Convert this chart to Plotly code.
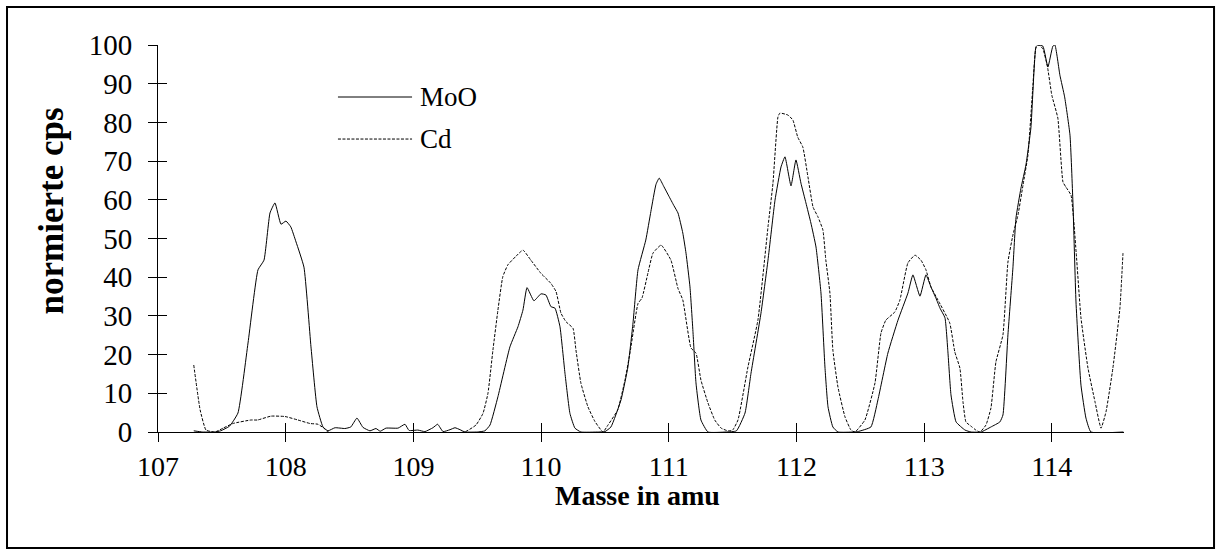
import plotly.graph_objects as go

# MoO trace: mass (amu) and normalised counts
mass_moo = [107.28, 107.35, 107.45, 107.49, 107.56, 107.626, 107.705, 107.783, 107.83, 107.877,
            107.916, 107.963, 108.002, 108.04, 108.081, 108.143, 108.198, 108.245, 108.292, 108.331,
            108.386, 108.464, 108.51, 108.558, 108.605, 108.66, 108.707, 108.74, 108.785, 108.88,
            108.934, 108.966, 109.036, 109.09, 109.153, 109.19, 109.232, 109.287, 109.326, 109.365,
            109.404, 109.5, 109.56, 109.60, 109.662, 109.756, 109.819, 109.858, 109.89, 109.944,
            109.999, 110.038, 110.077, 110.109, 110.148, 110.187, 110.226, 110.265, 110.312, 110.45,
            110.5, 110.547, 110.626, 110.68, 110.72, 110.759, 110.82, 110.86, 110.90, 110.925,
            110.96, 111.0, 111.04, 111.072, 111.11, 111.135, 111.166, 111.19, 111.213, 111.252,
            111.307, 111.45, 111.53, 111.597, 111.644, 111.722, 111.777, 111.832, 111.879, 111.91,
            111.957, 111.996, 112.035, 112.074, 112.113, 112.153, 112.192, 112.223, 112.247, 112.285,
            112.325, 112.45, 112.48, 112.583, 112.638, 112.716, 112.795, 112.873, 112.912, 112.967,
            113.014, 113.053, 113.092, 113.124, 113.163, 113.186, 113.21, 113.25, 113.32, 113.367,
            113.445, 113.523, 113.593, 113.617, 113.656, 113.695, 113.719, 113.758, 113.797, 113.836,
            113.875, 113.89, 113.93, 113.969, 114.008, 114.024, 114.063, 114.10, 114.142, 114.165,
            114.189, 114.228, 114.267, 114.306, 114.56]
cps_moo = [0.3, 0.0, 0.0, 0.3, 1.5, 4.9, 23.0, 41.9, 44.4, 56.6,
           59.2, 53.7, 54.5, 53.0, 49.1, 42.6, 22.0, 6.5, 1.3, 0.3,
           1.1, 0.9, 1.3, 3.6, 1.2, 0.3, 0.9, 0.2, 1.0, 1.0,
           2.0, 0.4, 0.5, 0.1, 1.1, 2.0, 0.1, 0.6, 1.1, 0.6,
           0.0, 0.0, 0.3, 1.8, 9.1, 22.0, 27.2, 31.5, 37.3, 33.9,
           35.7, 35.4, 32.4, 32.0, 27.2, 15.2, 4.8, 1.0, 0.0, 0.0,
           0.1, 1.3, 8.3, 16.8, 28.2, 41.9, 49.6, 57.0, 64.0, 65.6,
           63.5, 61.0, 58.5, 56.6, 51.4, 46.2, 37.5, 25.6, 12.7, 3.1,
           0.0, 0.0, 0.3, 4.9, 15.2, 30.7, 44.4, 59.9, 68.5, 71.1,
           63.6, 70.3, 64.3, 59.2, 54.0, 47.8, 35.9, 16.8, 6.5, 1.3,
           0.0, 0.0, 0.1, 1.3, 8.3, 20.4, 28.9, 35.9, 40.6, 35.1,
           40.6, 37.5, 34.6, 32.0, 29.5, 20.7, 9.6, 2.6, 0.5, 0.0,
           0.0, 1.3, 2.6, 4.4, 25.1, 42.4, 55.3, 63.0, 69.0, 78.6,
           99.5, 100.0, 99.7, 94.3, 99.7, 100.0, 92.2, 86.6, 76.7, 59.4,
           33.6, 12.1, 3.6, 0.0, 0.0]

# Cd trace: mass (amu) and normalised counts
mass_cd = [107.28, 107.33, 107.376, 107.446, 107.51, 107.587, 107.728, 107.78, 107.885, 107.995,
           108.096, 108.19, 108.253, 108.31, 108.33, 109.40, 109.49, 109.545, 109.584, 109.623,
           109.662, 109.70, 109.74, 109.80, 109.858, 109.92, 109.999, 110.077, 110.117, 110.156,
           110.195, 110.25, 110.273, 110.312, 110.367, 110.422, 110.485, 110.524, 110.60, 110.657,
           110.70, 110.759, 110.79, 110.837, 110.876, 110.94, 111.017, 111.072, 111.11, 111.174,
           111.213, 111.252, 111.307, 111.36, 111.41, 111.463, 111.50, 111.542, 111.62, 111.698,
           111.777, 111.816, 111.855, 111.87, 111.933, 111.972, 112.01, 112.05, 112.09, 112.13,
           112.168, 112.207, 112.23, 112.262, 112.285, 112.325, 112.38, 112.427, 112.458, 112.536,
           112.615, 112.662, 112.70, 112.77, 112.81, 112.873, 112.928, 112.975, 113.014, 113.053,
           113.108, 113.2, 113.24, 113.28, 113.304, 113.327, 113.367, 113.405, 113.437, 113.484,
           113.523, 113.562, 113.617, 113.656, 113.695, 113.735, 113.774, 113.813, 113.852, 113.875,
           113.9, 113.93, 113.965, 114.0, 114.047, 114.087, 114.11, 114.15, 114.19, 114.228,
           114.283, 114.338, 114.385, 114.424, 114.478, 114.533, 114.557]
cps_cd = [17.3, 5.7, 0.5, 0.0, 1.0, 2.2, 3.1, 3.1, 4.1, 4.0,
          3.1, 2.2, 2.0, 0.7, 0.0, 0.0, 1.8, 4.8, 10.0, 21.2,
          31.5, 40.1, 43.2, 45.3, 47.0, 44.4, 41.0, 38.4, 36.3, 30.7,
          28.5, 26.8, 21.2, 12.6, 6.5, 2.7, 0.0, 1.8, 5.7, 13.4,
          21.2, 33.2, 34.6, 41.1, 46.2, 48.3, 44.4, 37.1, 34.1, 21.7,
          20.4, 13.4, 7.5, 3.1, 1.0, 0.3, 0.5, 3.1, 16.8, 28.9,
          53.0, 64.3, 81.4, 82.4, 81.9, 80.6, 76.2, 73.6, 65.9, 58.1,
          55.6, 52.2, 44.4, 35.9, 21.2, 11.6, 3.9, 0.5, 0.0, 3.1,
          12.7, 25.6, 28.9, 31.0, 34.1, 43.7, 45.7, 44.4, 41.9, 37.5,
          34.1, 28.2, 20.7, 16.5, 7.8, 2.6, 1.5, 0.5, 0.0, 1.8,
          6.2, 18.1, 25.1, 43.9, 50.9, 56.1, 63.8, 71.6, 89.7, 99.2,
          100.0, 99.0, 94.5, 87.0, 81.1, 64.6, 63.3, 61.2, 46.5, 29.5,
          16.5, 7.8, 1.0, 5.2, 16.5, 32.0, 46.2]

x_ticks = [107, 108, 109, 110, 111, 112, 113, 114]
y_ticks = [0, 10, 20, 30, 40, 50, 60, 70, 80, 90, 100]

FONT = "Liberation Serif"

fig = go.Figure()
fig.add_trace(go.Scatter(x=mass_moo, y=cps_moo, mode="lines", name="MoO",
                         line=dict(color="black", width=1, shape="spline", smoothing=0.4),
                         xaxis="x", yaxis="y"))
fig.add_trace(go.Scatter(x=mass_cd, y=cps_cd, mode="lines", name="Cd",
                         line=dict(color="black", width=1, dash="3px,1.5px",
                                   shape="spline", smoothing=0.4),
                         xaxis="x2", yaxis="y2"))

x_range = [107, 114.565]
axis_common = dict(showgrid=False, zeroline=False, linecolor="black", linewidth=1,
                   tickcolor="black", tickwidth=1, ticklen=9)

fig.update_layout(
    width=1218, height=552,
    margin=dict(l=158, r=94, t=45, b=120),
    paper_bgcolor="white", plot_bgcolor="white",
    showlegend=False,
    font=dict(family=FONT, color="black", size=29),
    xaxis=dict(range=x_range, tickvals=x_ticks, ticks="outside", showline=True,
               tickfont=dict(family=FONT, size=28), ticklabelstandoff=0, **axis_common),
    yaxis=dict(range=[0, 100], tickvals=y_ticks, ticks="outside", showline=True,
               tickfont=dict(family=FONT, size=29), ticklabelstandoff=10, **axis_common),
    # companion axes draw the inner half of each crossing tick mark
    xaxis2=dict(range=x_range, matches="x", overlaying="x", anchor="y2", side="bottom",
                tickvals=x_ticks, ticks="inside", showline=False, showticklabels=False,
                **axis_common),
    yaxis2=dict(range=[0, 100], matches="y", overlaying="y", anchor="x2", side="left",
                tickvals=y_ticks, ticks="inside", showline=False, showticklabels=False,
                **axis_common),
)

# axis titles
fig.add_annotation(text="<b>Masse in amu</b>", xref="paper", yref="paper",
                   x=0.496, y=-0.165, xanchor="center", yanchor="middle",
                   showarrow=False, font=dict(size=28, family=FONT))
fig.add_annotation(text="<b>normierte cps</b>", xref="paper", yref="paper",
                   x=-0.110, y=0.572, xanchor="center", yanchor="middle", textangle=-90,
                   showarrow=False, font=dict(size=35, family=FONT))

# legend: sample lines with labels
legend_items = [("MoO", 0.8656, "solid"), ("Cd", 0.757, "3px,1.5px")]
for label, ly, dash in legend_items:
    fig.add_shape(type="line", xref="paper", yref="paper", x0=0.1863, x1=0.263, y0=ly, y1=ly,
                  line=dict(color="black", width=1, dash=dash))
    fig.add_annotation(text=label, xref="paper", yref="paper", x=0.269, y=ly,
                       xanchor="left", yanchor="middle", showarrow=False,
                       font=dict(size=27, family=FONT))

# frame around the whole chart
fig.add_shape(type="rect", xref="paper", yref="paper",
              x0=-0.1563, x1=1.0932, y0=-0.2997, y1=1.0982,
              line=dict(color="black", width=2), layer="above")

fig.write_html("out.html")
